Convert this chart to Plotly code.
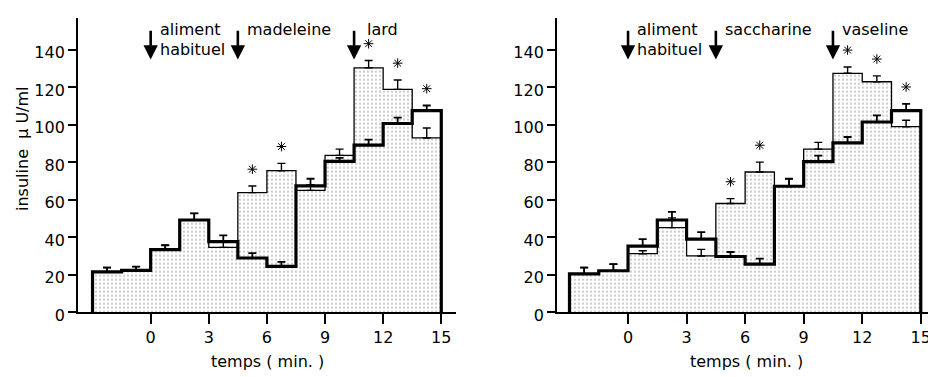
import plotly.graph_objects as go

# ---------------- data ----------------
bin_start = [-3, -1.5, 0, 1.5, 3, 4.5, 6, 7.5, 9, 10.5, 12, 13.5]
bin_width = 1.5
x_ticks = [0, 3, 6, 9, 12, 15]
y_ticks = [0, 20, 40, 60, 80, 100, 120, 140]

# left panel: madeleine / lard
left_test = [21.5, 22.3, 33.4, 49.2, 34.6, 63.8, 75.5, 65.0, 83.7, 130.4, 118.9, 93.0]
left_test_sem = [2.3, 2.0, 2.3, 3.5, 3.0, 3.5, 3.9, 3.0, 3.3, 3.9, 5.0, 5.3]
left_ctrl = [21.5, 22.3, 33.4, 49.2, 37.6, 28.9, 24.4, 67.4, 80.5, 89.2, 100.7, 107.6]
left_ctrl_sem = [2.3, 2.0, 2.3, 3.5, 3.4, 2.6, 2.4, 3.8, 1.8, 2.9, 3.1, 2.7]

# right panel: saccharine / vaseline
right_test = [20.4, 22.1, 31.2, 45.1, 30.0, 58.0, 74.8, 67.2, 87.0, 127.5, 123.0, 99.0]
right_test_sem = [3.4, 3.5, 1.6, 5.2, 3.5, 2.6, 5.3, 4.0, 3.6, 3.4, 3.1, 3.4]
right_ctrl = [20.4, 22.1, 35.2, 49.2, 39.0, 29.7, 25.6, 67.2, 80.3, 90.4, 101.5, 107.6]
right_ctrl_sem = [3.4, 3.5, 3.8, 4.3, 3.7, 2.4, 3.0, 4.0, 3.2, 3.1, 3.5, 3.6]

star_bins = [5, 6, 9, 10, 11]

event_times = [0, 4.5, 10.5]
left_events = [["aliment", "habituel"], ["madeleine"], ["lard"]]
right_events = [["aliment", "habituel"], ["saccharine"], ["vaseline"]]

x_title = "temps ( min. )"
y_title = "insuline  µ U/ml"

# ---------------- figure ----------------
FONT = "DejaVu Sans"
fig = go.Figure()

edges = bin_start + [bin_start[-1] + bin_width]
centers = [b + bin_width / 2 for b in bin_start]


def add_panel(xa, ya, test, test_sem, ctrl, ctrl_sem, events):
    xs = [edges[0]] + edges + [edges[-1]]
    ty = [0] + test + [test[-1], 0]
    cy = [0] + ctrl + [ctrl[-1], 0]
    fig.add_trace(go.Scatter(
        x=xs, y=ty, xaxis=xa, yaxis=ya, mode="lines",
        line=dict(shape="hv", color="black", width=1.3),
        fill="tozeroy", fillcolor="rgba(0,0,0,0)",
        fillpattern=dict(shape=".", size=4, solidity=0.16,
                         fgcolor="#6a6a6a", bgcolor="white"),
        hoverinfo="skip", showlegend=False))
    fig.add_trace(go.Scatter(
        x=xs, y=cy, xaxis=xa, yaxis=ya, mode="lines",
        line=dict(shape="hv", color="black", width=3.2),
        hoverinfo="skip", showlegend=False))
    fig.add_trace(go.Scatter(
        x=centers, y=test, xaxis=xa, yaxis=ya, mode="markers",
        marker=dict(size=1, color="rgba(0,0,0,0)"),
        error_y=dict(type="data", array=test_sem, arrayminus=[0] * len(test),
                     symmetric=False, color="black", thickness=1.4, width=4),
        hoverinfo="skip", showlegend=False))
    fig.add_trace(go.Scatter(
        x=centers, y=ctrl, xaxis=xa, yaxis=ya, mode="markers",
        marker=dict(size=1, color="rgba(0,0,0,0)"),
        error_y=dict(type="data", array=ctrl_sem, arrayminus=[0] * len(ctrl),
                     symmetric=False, color="black", thickness=1.8, width=4),
        hoverinfo="skip", showlegend=False))

    # significance stars as asterisk markers above the highest error bar
    sx = [centers[i] for i in star_bins]
    sy = [max(test[i] + test_sem[i], ctrl[i] + ctrl_sem[i]) + 9 for i in star_bins]
    fig.add_trace(go.Scatter(
        x=sx, y=sy, xaxis=xa, yaxis=ya, mode="markers",
        marker=dict(symbol="asterisk-open", size=8, color="black",
                    line=dict(color="black", width=1)),
        hoverinfo="skip", showlegend=False))

    # arrows + labels
    for t, labels in zip(event_times, events):
        fig.add_annotation(x=t, y=134.8, ax=t, ay=151, xref=xa, yref=ya,
                           axref=xa, ayref=ya, text="", showarrow=True,
                           arrowhead=2, arrowsize=1.1, arrowwidth=2.6,
                           arrowcolor="black", standoff=0)
        shift = 11 if labels == ["lard"] else 7
        for k, lab in enumerate(labels):
            fig.add_annotation(x=t, y=150.8 - 10.8 * k, xref=xa, yref=ya,
                               text=lab, showarrow=False, xanchor="left",
                               yanchor="middle", xshift=shift,
                               font=dict(family=FONT, size=16, color="black"))
    # x title
    fig.add_annotation(x=0.5, y=0.03, xref=xa + " domain", yref="paper",
                       text=x_title, showarrow=False, yanchor="middle",
                       font=dict(family=FONT, size=16, color="black"))


add_panel("x", "y", left_test, left_test_sem, left_ctrl, left_ctrl_sem, left_events)
add_panel("x2", "y2", right_test, right_test_sem, right_ctrl, right_ctrl_sem, right_events)

fig.add_annotation(x=15 / 936, y=1 - 146 / 377, xref="paper", yref="paper",
                   text=y_title, textangle=-90, showarrow=False,
                   xanchor="center", yanchor="middle",
                   font=dict(family=FONT, size=16, color="black"))

xcommon = dict(showgrid=False, zeroline=False, showline=True, linecolor="black",
               linewidth=1.8, ticks="outside", ticklen=10, tickwidth=1.8,
               tickcolor="black", tickvals=x_ticks,
               tickfont=dict(family=FONT, size=16, color="black"),
               fixedrange=True)
ycommon = dict(showgrid=False, zeroline=False, showline=True, linecolor="black",
               linewidth=1.8, ticks="outside", ticklen=8, tickwidth=1.8,
               tickcolor="black", tickvals=y_ticks, range=[0, 157.2],
               ticklabelstandoff=0, ticklabelshift=3,
               tickfont=dict(family=FONT, size=16, color="black"),
               fixedrange=True, domain=[62 / 377, 367 / 377])

fig.update_layout(
    width=936, height=377,
    margin=dict(l=0, r=0, t=0, b=0),
    paper_bgcolor="white", plot_bgcolor="white",
    showlegend=False,
    xaxis=dict(xcommon, domain=[70 / 936, 448 / 936], range=[-3.75, 15.76], anchor="y"),
    yaxis=dict(ycommon, anchor="x"),
    xaxis2=dict(xcommon, domain=[549 / 936, 928 / 936], range=[-3.64, 15.78], anchor="y2"),
    yaxis2=dict(ycommon, anchor="x2"),
)

fig.write_html("out.html")
